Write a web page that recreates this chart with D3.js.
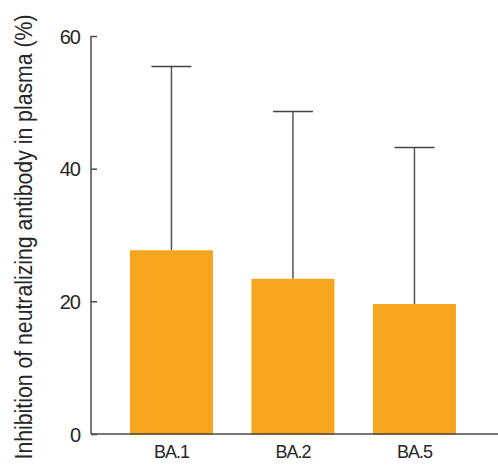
<!DOCTYPE html>
<html>
<head>
<meta charset="utf-8">
<script src="https://cdn.jsdelivr.net/npm/d3@7"></script>
<style>
  html, body { margin: 0; padding: 0; background: #fff; }
  svg { display: block; }
  text { font-family: "Liberation Sans", Arial, Helvetica, sans-serif; fill: #262626; }
</style>
</head>
<body>
<svg id="chart" width="498" height="467"></svg>
<script>
const categories = ["BA.1", "BA.2", "BA.5"];
const means = [27.7, 23.4, 19.6];
const sds = [27.7, 25.2, 23.6];
const yTicks = [0, 20, 40, 60];
const yLabel = "Inhibition of neutralizing antibody in plasma (%)";

const data = categories.map((c, i) => ({ cat: c, mean: means[i], sd: sds[i] }));

const svg = d3.select("#chart");
const W = 498, H = 467;
const axisX = 91, axisY = 434, topY = 36;

const y = d3.scaleLinear().domain([0, 60]).range([axisY, topY]);
const x = d3.scaleBand().domain(categories)
  .range([93.5, 492.4]).paddingInner(0.317).paddingOuter(0.3);

const barColor = "#F6A51E";
const lineColor = "#4a4a4a";

// bars
svg.selectAll("rect.bar").data(data).enter().append("rect")
  .attr("class", "bar")
  .attr("x", d => x(d.cat))
  .attr("width", x.bandwidth())
  .attr("y", d => y(d.mean))
  .attr("height", d => y(0) - y(d.mean) + 1)
  .attr("fill", barColor);

// error bars (upper only)
const capW = 40;
const eb = svg.selectAll("g.eb").data(data).enter().append("g").attr("class", "eb");
eb.append("line")
  .attr("x1", d => x(d.cat) + x.bandwidth() / 2)
  .attr("x2", d => x(d.cat) + x.bandwidth() / 2)
  .attr("y1", d => y(d.mean))
  .attr("y2", d => y(d.mean + d.sd))
  .attr("stroke", "#555").attr("stroke-width", 1.5);
eb.append("line")
  .attr("x1", d => x(d.cat) + x.bandwidth() / 2 - capW / 2)
  .attr("x2", d => x(d.cat) + x.bandwidth() / 2 + capW / 2)
  .attr("y1", d => y(d.mean + d.sd))
  .attr("y2", d => y(d.mean + d.sd))
  .attr("stroke", "#444").attr("stroke-width", 1.5);

// y axis with inward ticks
const yAxis = d3.axisRight(y).tickValues(yTicks).tickSize(6).tickFormat(d3.format("d"));
const gy = svg.append("g").attr("transform", `translate(${axisX},0)`).call(yAxis);
gy.select(".domain").remove();
gy.selectAll(".tick line").attr("stroke", lineColor).attr("stroke-width", 1.5);
gy.selectAll(".tick text")
  .attr("x", -11).attr("dy", "0.36em")
  .attr("text-anchor", "end")
  .style("font-size", "20px")
  .style("letter-spacing", "-1px")
  .attr("fill", "#262626");
svg.append("line")
  .attr("x1", axisX).attr("x2", axisX)
  .attr("y1", y(60)).attr("y2", axisY)
  .attr("stroke", lineColor).attr("stroke-width", 1.5);

// x axis
const xAxis = d3.axisBottom(x).tickSize(0);
const gx = svg.append("g").attr("transform", `translate(0,${axisY})`).call(xAxis);
gx.select(".domain").remove();
gx.selectAll(".tick text")
  .attr("y", 24).attr("dy", 0)
  .style("font-size", "18px")
  .style("letter-spacing", "-1px")
  .attr("fill", "#262626");
svg.append("line")
  .attr("x1", axisX).attr("x2", W)
  .attr("y1", axisY).attr("y2", axisY)
  .attr("stroke", lineColor).attr("stroke-width", 1.5);

// y label (horizontally condensed along its reading direction)
svg.append("text")
  .attr("transform", `translate(32,237) rotate(-90) scale(0.885,1)`)
  .attr("text-anchor", "middle")
  .style("font-size", "24px")
  .text(yLabel);
</script>
</body>
</html>
